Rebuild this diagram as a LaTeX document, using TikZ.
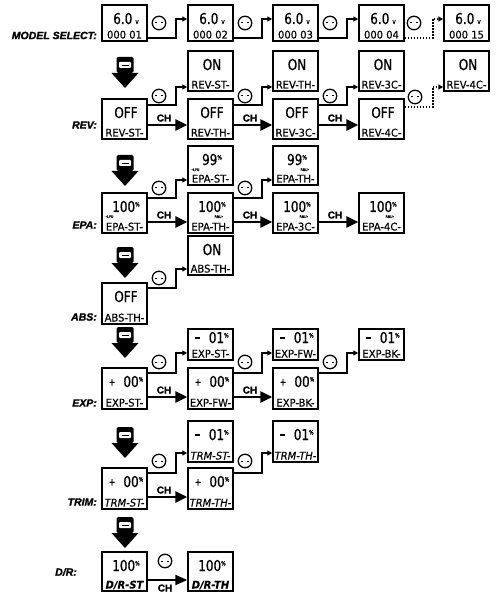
\documentclass[tikz,border=0pt]{standalone}
\usepackage{fontspec}
\setmainfont{DejaVu Sans}
\newfontfamily\lcdfont[FakeStretch=0.8,FakeBold=0.6]{DejaVu Sans}
\newfontfamily\lblfont[FakeStretch=0.95,FakeBold=0.4]{DejaVu Sans}
\newfontfamily\hdfont[FakeBold=1.5]{Liberation Sans}
\usetikzlibrary{arrows.meta,calc}

\newcommand\lcdbig[1]{{\fontsize{15}{15}\selectfont #1}}
\newcommand\lcdpct{\raisebox{5.5pt}{\fontsize{6}{6}\selectfont\%}}
\newcommand\lcdsm[1]{{\fontsize{7}{7}\selectfont #1}}
\newcommand\lcdplus{\raisebox{1.5pt}{\fontsize{10}{10}\selectfont +}}
\newcommand\lcdminus{\rule[4.5pt]{4.5pt}{1.4pt}}
\newcommand\msv{\lcdbig{6.0}\hspace{3pt}\lcdsm{v}}
\newcommand\pctv[1]{\lcdbig{#1}\lcdpct}
\newcommand\plusz{\lcdplus\hspace{8pt}\lcdbig{00}\lcdpct\hspace{7pt}}
\newcommand\minuso{\lcdminus\hspace{9pt}\lcdbig{01}\lcdpct\hspace{7pt}}

\tikzset{
  lcdbox/.style={draw, rectangle, line width=1.5pt, minimum width=45pt, inner sep=0pt},
  lcdtop/.style={font=\lcdfont, anchor=base, inner sep=0pt},
  lcdlbl/.style={font={\lblfont\fontsize{10.5}{10.5}\selectfont}, anchor=base, inner sep=0pt},
  tinyt/.style={font={\lblfont\fontsize{3.5}{3.5}\selectfont}, inner sep=0pt},
  rowlbl/.style={font={\hdfont\bfseries\itshape\fontsize{10.5}{10.5}\selectfont}, anchor=east, inner sep=0pt},
  chlbl/.style={font={\hdfont\bfseries\fontsize{10}{10}\selectfont}, anchor=base, inner sep=0pt},
  cline/.style={line width=1.5pt, -{Triangle[length=5pt,width=5pt]}},
  dline/.style={line width=1.7pt, dash pattern=on 1.5pt off 1.5pt, -{Triangle[length=5pt,width=5pt]}},
  chline/.style={line width=2.8pt, -{Triangle[length=12pt,width=11pt]}},
  drline/.style={line width=2.4pt, -{Triangle[length=12pt,width=10pt]}},
  csym/.style={circle, draw, line width=1.3pt, minimum size=13.5pt, inner sep=0pt, fill=white,
    path picture={\draw[line width=1pt]
      ($(path picture bounding box.center)+(-4,0)$) -- ++(2,0)
      ($(path picture bounding box.center)+(2,0)$) -- ++(2,0);}}
}

\newcommand\lcd[6]{%
  \node[lcdbox, minimum height=#4pt] (#1) at ({#2+22.5},{#3+#4/2}) {};
  \pgfmathsetmacro\lcdtb{#3+min(19,#4-17)}
  \node[lcdtop] (#1-t) at ({#2+24},\lcdtb) {#5};
  \node[lcdlbl] (#1-l) at ({#2+22.5},{#3+#4-2.5}) {#6};
}

\newcommand\dnarrow[2]{%
  \fill[rounded corners=1.5pt] ({#1-8.5},#2) rectangle ({#1+8.5},{#2+16});
  \fill[white, rounded corners=1pt] ({#1-6},{#2+5}) rectangle ({#1+6},{#2+11});
  \draw[line width=0.6pt] ({#1-3.5},{#2+8}) -- ({#1+3.5},{#2+8});
  \fill ({#1-13.5},{#2+16}) -- ({#1+13.5},{#2+16}) -- (#1,{#2+31}) -- cycle;
}

\begin{document}
\begin{tikzpicture}[x=1pt,y=-1pt]
\fill[white] (0,0) rectangle (495,593);
\useasboundingbox (0,0) rectangle (495,593);

% ---------- MODEL SELECT ----------
\node[rowlbl] (lms) at (97,35.5) {MODEL SELECT:};
\lcd{M1}{102}{5}{36}{\msv}{000 01}
\lcd{M2}{188}{5}{36}{\msv}{000 02}
\lcd{M3}{273}{5}{36}{\msv}{000 03}
\lcd{M4}{359}{5}{36}{\msv}{000 04}
\lcd{M5}{444}{5}{36}{\msv}{000 15}
\draw[cline] (M1.east |- 0,38) -- ++(28,0) |- (M2.west |- 0,19);
\draw[cline] (M2.east |- 0,38) -- ++(28,0) |- (M3.west |- 0,19);
\draw[cline] (M3.east |- 0,38) -- ++(28,0) |- (M4.west |- 0,19);
\draw[dline] (M4.east |- 0,38) -- ++(28,0) |- (M5.west |- 0,19);
\node[csym] (cm1) at (159,23) {};
\node[csym] (cm2) at (245,23) {};
\node[csym] (cm3) at (330,23) {};
\node[csym] (cm4) at (414,23) {};

\dnarrow{125}{57}

% ---------- REV ----------
\node[rowlbl] (lrev) at (97,125) {REV:};
\lcd{RU1}{188}{51}{40}{\lcdbig{ON}}{REV-ST-}
\lcd{RU2}{273}{51}{40}{\lcdbig{ON}}{REV-TH-}
\lcd{RU3}{359}{51}{40}{\lcdbig{ON}}{REV-3C-}
\lcd{RU4}{444}{51}{40}{\lcdbig{ON}}{REV-4C-}
\lcd{R1}{102}{99}{40}{\lcdbig{OFF}}{REV-ST-}
\lcd{R2}{188}{99}{40}{\lcdbig{OFF}}{REV-TH-}
\lcd{R3}{273}{99}{40}{\lcdbig{OFF}}{REV-3C-}
\lcd{R4}{359}{99}{40}{\lcdbig{OFF}}{REV-4C-}
\draw[cline] (R1.east |- 0,105) -- ++(28,0) |- (RU1.west |- 0,87);
\draw[cline] (R2.east |- 0,105) -- ++(28,0) |- (RU2.west |- 0,87);
\draw[cline] (R3.east |- 0,105) -- ++(28,0) |- (RU3.west |- 0,87);
\draw[dline] (R4.east |- 0,107) -- ++(28,0) |- (RU4.west |- 0,87);
\node[csym] (cr1) at (159,96) {};
\node[csym] (cr2) at (245,96) {};
\node[csym] (cr3) at (330,96) {};
\node[csym] (cr4) at (415,97) {};
\draw[chline] (R1.east |- 0,125) -- (R2.west |- 0,125);
\draw[chline] (R2.east |- 0,125) -- (R3.west |- 0,125);
\draw[chline] (R3.east |- 0,125) -- (R4.west |- 0,125);
\node[chlbl] (chr1) at (164,121.5) {CH};
\node[chlbl] (chr2) at (250,121.5) {CH};
\node[chlbl] (chr3) at (335,121.5) {CH};

\dnarrow{125}{155}

% ---------- EPA ----------
\node[rowlbl] (lepa) at (97,225) {EPA:};
\lcd{EU1}{188}{146}{39}{\pctv{99}}{EPA-ST-}
\lcd{EU2}{273}{146}{39}{\pctv{99}}{EPA-TH-}
\lcd{E1}{102}{193}{40}{\pctv{100}}{EPA-ST-}
\lcd{E2}{188}{193}{40}{\pctv{100}}{EPA-TH-}
\lcd{E3}{273}{193}{40}{\pctv{100}}{EPA-3C-}
\lcd{E4}{359}{193}{40}{\pctv{100}}{EPA-4C-}
\node[tinyt, anchor=base west] (EU1-x) at (191,171) {•LFU};
\node[tinyt, anchor=base] (EU2-x) at (305,171) {RBU•};
\node[tinyt, anchor=base west] (E1-x) at (105,218) {•LFU};
\node[tinyt, anchor=base] (E2-x) at (219,218) {RBU•};
\node[tinyt, anchor=base] (E3-x) at (304,218) {RBU•};
\node[tinyt, anchor=base] (E4-x) at (390,218) {RBU•};
\draw[cline] (E1.east |- 0,198) -- ++(28,0) |- (EU1.west |- 0,180);
\draw[cline] (E2.east |- 0,198) -- ++(28,0) |- (EU2.west |- 0,180);
\node[csym] (ce1) at (159,188) {};
\node[csym] (ce2) at (245,188) {};
\draw[chline] (E1.east |- 0,222) -- (E2.west |- 0,222);
\draw[chline] (E2.east |- 0,222) -- (E3.west |- 0,222);
\draw[chline] (E3.east |- 0,222) -- (E4.west |- 0,222);
\node[chlbl] (che1) at (164,218.5) {CH};
\node[chlbl] (che2) at (250,218.5) {CH};
\node[chlbl] (che3) at (335,218.5) {CH};

\dnarrow{125}{247}

% ---------- ABS ----------
\node[rowlbl] (labs) at (97,317) {ABS:};
\lcd{AU1}{188}{236}{39}{\lcdbig{ON}}{ABS-TH-}
\lcd{A1}{102}{283}{41}{\lcdbig{OFF}}{ABS-TH-}
\draw[cline] (A1.east |- 0,288) -- ++(28,0) |- (AU1.west |- 0,269);
\node[csym] (ca1) at (159,278) {};

\dnarrow{125}{327}

% ---------- EXP ----------
\node[rowlbl] (lexp) at (97,403) {EXP:};
\lcd{XU1}{188}{329}{31}{\minuso}{EXP-ST-}
\lcd{XU2}{273}{329}{31}{\minuso}{EXP-FW-}
\lcd{XU3}{359}{329}{31}{\minuso}{EXP-BK-}
\lcd{X1}{102}{368}{41}{\plusz}{EXP-ST-}
\lcd{X2}{188}{368}{41}{\plusz}{EXP-FW-}
\lcd{X3}{273}{368}{41}{\plusz}{EXP-BK-}
\draw[cline] (X1.east |- 0,373) -- ++(28,0) |- (XU1.west |- 0,353);
\draw[cline] (X2.east |- 0,373) -- ++(28,0) |- (XU2.west |- 0,353);
\draw[cline] (X3.east |- 0,373) -- ++(28,0) |- (XU3.west |- 0,353);
\node[csym] (cx1) at (159,362) {};
\node[csym] (cx2) at (245,362) {};
\node[csym] (cx3) at (330,362) {};
\draw[chline] (X1.east |- 0,397) -- (X2.west |- 0,397);
\draw[chline] (X2.east |- 0,397) -- (X3.west |- 0,397);
\node[chlbl] (chx1) at (164,393.5) {CH};
\node[chlbl] (chx2) at (250,393.5) {CH};

\dnarrow{125}{427}

% ---------- TRIM ----------
\node[rowlbl] (ltrim) at (97,502) {TRIM:};
\lcd{TU1}{188}{421}{41}{\minuso}{\itshape TRM-ST-}
\lcd{TU2}{273}{421}{41}{\minuso}{\itshape TRM-TH-}
\lcd{T1}{102}{468}{41}{\plusz}{\itshape TRM-ST-}
\lcd{T2}{188}{468}{41}{\plusz}{\itshape TRM-TH-}
\draw[cline] (T1.east |- 0,473) -- ++(28,0) |- (TU1.west |- 0,453);
\draw[cline] (T2.east |- 0,473) -- ++(28,0) |- (TU2.west |- 0,453);
\node[csym] (ct1) at (159,461) {};
\node[csym] (ct2) at (245,461) {};
\draw[chline] (T1.east |- 0,497) -- (T2.west |- 0,497);
\node[chlbl] (cht1) at (164,493.5) {CH};

\dnarrow{125}{517}

% ---------- D/R ----------
\node[rowlbl] (ldr) at (77,572) {D/R:};
\lcd{D1}{102}{552}{39}{\pctv{100}}{\bfseries\itshape D/R-ST}
\lcd{D2}{188}{552}{39}{\pctv{100}}{\bfseries\itshape D/R-TH}
\draw[drline] (D1.east |- 0,580) -- (D2.west |- 0,580);
\node[csym] (cd1) at (165,561) {};
\node[chlbl] (chd1) at (165,591.5) {CH};
\end{tikzpicture}
\end{document}
